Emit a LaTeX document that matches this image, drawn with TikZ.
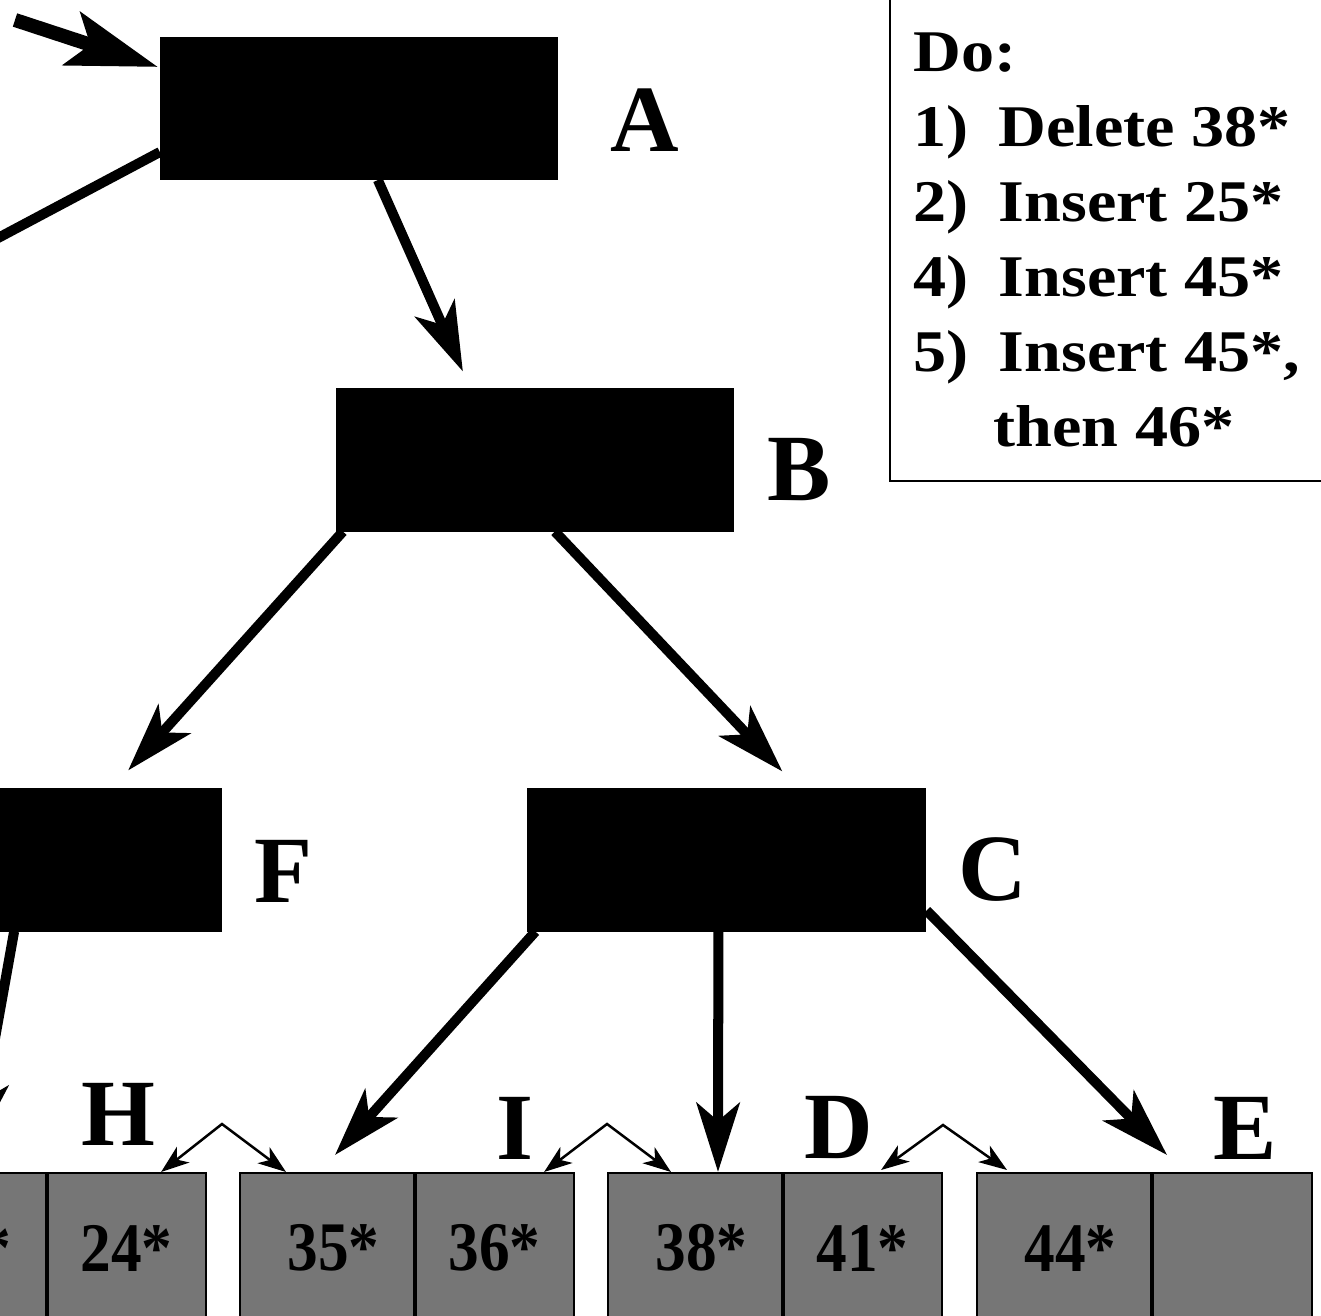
\documentclass[tikz,border=0pt]{standalone}
\usepackage{fontspec}
\setmainfont{Liberation Serif}
\newfontfamily\legendfont[FakeStretch=1.12]{Liberation Serif}
\newfontfamily\cellfont[FakeStretch=0.88]{Liberation Serif}
\usetikzlibrary{arrows.meta,calc}
\definecolor{leafgray}{RGB}{118,118,118}

\tikzset{
  keybox/.style={fill=black, draw=none, minimum width=3.98cm, minimum height=1.43cm,
                 inner sep=0pt, outer sep=0pt},
  tag/.style={font=\fontsize{27pt}{30pt}\selectfont\bfseries, inner sep=0pt},
  cell/.style={fill=leafgray, draw=black, line width=0.025cm, anchor=north west,
               minimum height=1.50cm, inner sep=0pt, outer sep=0pt,
               font=\fontsize{19.8pt}{22pt}\cellfont\bfseries},
  widecell/.style={cell, minimum width=1.75cm},
  narrowcell/.style={cell, minimum width=1.59cm},
  divider/.style={line width=0.04cm},
  link/.style={line width=0.10cm, -{Stealth[length=0.69cm, width=0.43cm, inset=0.18cm]}},
  entry/.style={line width=0.14cm, -{Stealth[length=0.90cm, width=0.55cm, inset=0.19cm]}},
  sibling/.style={line width=0.025cm,
    {Stealth[length=0.28cm, width=0.20cm, inset=0.08cm]}-{Stealth[length=0.28cm, width=0.20cm, inset=0.08cm]}},
  frame/.style={draw, line width=0.02cm, inner sep=0pt, outer sep=0pt},
  legendline/.style={anchor=base west, inner sep=0pt,
               font=\fontsize{16.8pt}{20pt}\legendfont\bfseries},
}
% key text in the wider cell sits a little right of centre
\newcommand{\lkey}[1]{\hspace*{0.12cm}#1}

\begin{document}
\begin{tikzpicture}[x=0.01cm, y=-0.01cm]
  \useasboundingbox (0,0) rectangle (1321,1316);
  \clip (0,0) rectangle (1321,1316);

  % index nodes
  \node[keybox] (A) at (359,108.5) {};
  \node[keybox] (B) at (535,460) {};
  \node[keybox] (F) at (23,860) {};
  \node[keybox] (C) at (726.5,860) {};

  \node[tag] (tA) at (645,120) {A};
  \node[tag] (tB) at (799,470) {B};
  \node[tag] (tF) at (283,871) {F};
  \node[tag] (tC) at (993,870) {C};

  % leaf pages
  \node[widecell]   (h1) at (-128,1173) {\lkey{22*}};
  \node[narrowcell] (h2) at (47,1173)   {24*};
  \node[widecell]   (i1) at (240,1173)  {\lkey{35*}};
  \node[narrowcell] (i2) at (415,1173)  {36*};
  \node[widecell]   (d1) at (608,1173)  {\lkey{38*}};
  \node[narrowcell] (d2) at (783,1173)  {41*};
  \node[widecell]   (e1) at (977,1173)  {\lkey{44*}};
  \node[narrowcell] (e2) at (1153,1173) {};
  \foreach \c in {h1,i1,d1,e1}
    \draw[divider] (\c.north east) -- (\c.south east);

  \node[tag] (tH) at (118,1114) {H};
  \node[tag] (tI) at (515,1128) {I};
  \node[tag] (tD) at (839,1128) {D};
  \node[tag] (tE) at (1245,1128) {E};

  % root pointer and tree pointers
  \coordinate (in0) at (15,20);
  \draw[entry] (in0) -- ($(A.north west)+(-2,30)$);

  \coordinate (offW) at (-160,322);
  \draw[link] ($(A.south west)+(0,-28)$) -- (offW);
  \draw[link] ($(A.south west)+(218,0)$) -- ($(B.north west)+(127,-17)$);
  \draw[link] ($(B.south west)+(7,0)$) -- ($(F.north east)+(-94,-18)$);
  \draw[link] ($(B.south west)+(219,0)$) -- ($(C.north west)+(255,-17)$);

  \coordinate (offSW) at (-25,1150);
  \draw[link] ($(F.south east)+(-208,0)$) -- (offSW);
  \draw[link] ($(C.south west)+(8,0)$) -- ($(i1.north west)+(95,-18)$);
  \draw[link] ($(C.south west)+(191,0)$) -- ($(d1.north west)+(110,-1)$);
  \draw[link] ($(C.south east)+(1,-21)$) -- ($(e2.north west)+(14,-18)$);

  % sibling links between leaves
  \coordinate (pH) at (222,1124);
  \coordinate (pI) at (607,1124);
  \coordinate (pD) at (943,1125);
  \draw[sibling] ($(h2.north east)+(-45,-1)$) -- (pH) -- ($(i1.north west)+(46,-1)$);
  \draw[sibling] ($(i2.north east)+(-30,-1)$) -- (pI) -- ($(d1.north west)+(63,-1)$);
  \draw[sibling] ($(d2.north east)+(-61,-3)$) -- (pD) -- ($(e1.north west)+(30,-3)$);

  % task list
  \node[frame, anchor=south west, minimum width=4.6cm, minimum height=5.2cm] (legend) at (890,481) {};
  \node[legendline] (ln0) at (913,72)  {Do:};
  \node[legendline] (ln1) at (913,147) {\makebox[0.85cm][l]{1)}Delete 38*};
  \node[legendline] (ln2) at (913,222) {\makebox[0.85cm][l]{2)}Insert 25*};
  \node[legendline] (ln3) at (913,297) {\makebox[0.85cm][l]{4)}Insert 45*};
  \node[legendline] (ln4) at (913,372) {\makebox[0.85cm][l]{5)}Insert 45*,};
  \node[legendline] (ln5) at (913,447) {\hspace*{0.80cm}then 46*};
\end{tikzpicture}
\end{document}
